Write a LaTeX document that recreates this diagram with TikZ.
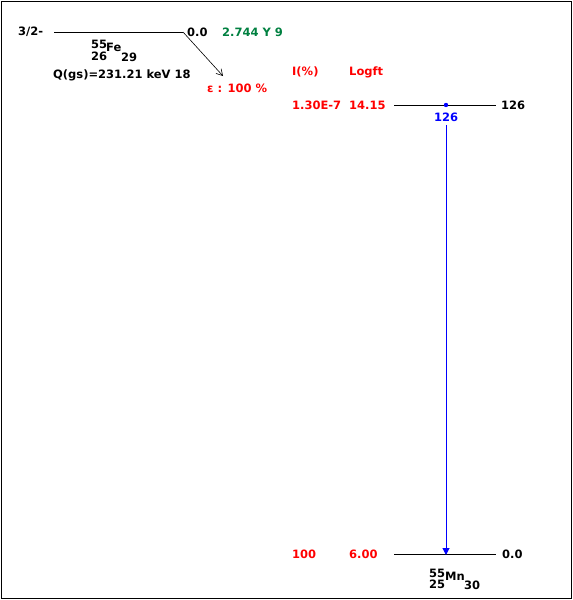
\documentclass[tikz,border=0pt]{standalone}
\usepackage{fontspec}
\setmainfont{DejaVu Sans}
\usetikzlibrary{arrows.meta}
\definecolor{dred}{RGB}{255,0,0}
\definecolor{dgreen}{RGB}{0,128,64}
\definecolor{dblue}{RGB}{0,0,255}
\begin{document}
\begin{tikzpicture}[x=1pt,y=-1pt,
  txt/.style={inner sep=0pt,anchor=west,font=\fontsize{11.5}{13}\selectfont\bfseries},
  rtxt/.style={txt,text=dred},
  lvl/.style={line width=1pt,draw=black},
  trans/.style={line width=1pt,draw=dblue,-{Triangle[length=7pt,width=7pt]}}]
\useasboundingbox (0,0) rectangle (573,600);
\draw[line width=1.6pt] (1.5,1.5) rectangle (571.5,598.5);
% parent
\node[txt] (jp) at (18,32) {3/2-};
\coordinate (p1) at (54,32);
\coordinate (p2) at (183,32);
\draw[lvl] (p1) -- (p2);
\node[txt] (pe) at (187,32) {0.0};
\node[txt,text=dgreen] (hl) at (222,32) {2.744 Y 9};
\node[txt] (pa) at (91,44.5) {55};
\node[txt] (pz) at (91,56) {26};
\node[txt] (pfe) at (106,47.5) {Fe};
\node[txt] (pn) at (121,57.5) {29};
\node[txt] (q) at (53,75) {Q(gs)=231.21 keV 18};
\coordinate (ah) at (223,76);
\draw[line width=0.6pt,-{Straight Barb[length=6pt,width=7pt]}] (p2) -- (ah);
\node[rtxt] (eps) at (207,88) {ε : 100 \%};
% headers
\node[rtxt] (hi) at (292,72) {I(\%)};
\node[rtxt] (hl2) at (349,72) {Logft};
% level 126
\node[rtxt] (i1) at (292,105) {1.30E-7};
\node[rtxt] (l1) at (349,105) {14.15};
\coordinate (a1) at (394,105);
\coordinate (b1) at (496,105);
\draw[lvl] (a1) -- (b1);
\node[txt] (e1) at (501,105) {126};
\fill[dblue] (446,105) circle (2.2pt);
\node[txt,anchor=center,text=dblue] (g1) at (446,117) {126};
% ground
\node[rtxt] (i0) at (292,554) {100};
\node[rtxt] (l0) at (349,554) {6.00};
\coordinate (a0) at (394,554);
\coordinate (b0) at (496,554);
\draw[lvl] (a0) -- (b0);
\node[txt] (e0) at (502,554) {0.0};
\coordinate (gs) at (446,125);
\coordinate (ge) at (446,555);
\draw[trans] (gs) -- (ge);
\node[txt] (da) at (429,573) {55};
\node[txt] (dz) at (429,584) {25};
\node[txt] (dmn) at (445,576) {Mn};
\node[txt] (dn) at (464,585) {30};
\end{tikzpicture}
\end{document}
